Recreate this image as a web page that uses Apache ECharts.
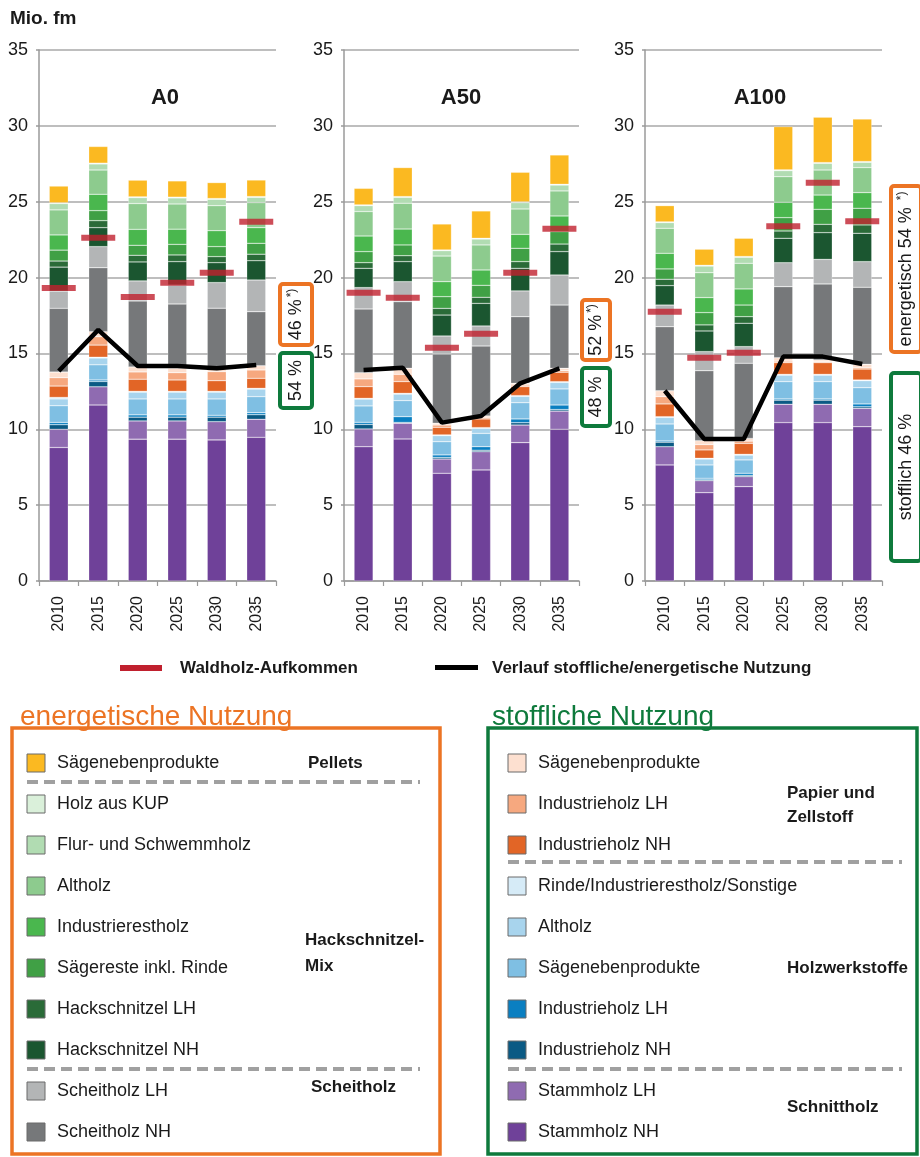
<!DOCTYPE html>
<html><head><meta charset="utf-8">
<script src="https://cdn.jsdelivr.net/npm/echarts@6/dist/echarts.min.js"></script>
<style>html,body{margin:0;padding:0;background:#fff}#c{width:920px;height:1157px}</style>
</head><body><div id="c"></div>
<script>
// ---------- DATA ----------
const years = ['2010','2015','2020','2025','2030','2035'];
const scenarios = ['A0','A50','A100'];
// stack order bottom -> top
const components = [
  'Stammholz NH','Stammholz LH',
  'Industrieholz NH (Holzwerkstoffe)','Industrieholz LH (Holzwerkstoffe)','Sägenebenprodukte (Holzwerkstoffe)','Altholz (Holzwerkstoffe)','Rinde/Industrierestholz/Sonstige',
  'Industrieholz NH (Papier)','Industrieholz LH (Papier)','Sägenebenprodukte (Papier)',
  'Scheitholz NH','Scheitholz LH',
  'Hackschnitzel NH','Hackschnitzel LH','Sägereste inkl. Rinde','Industrierestholz','Altholz (Hackschnitzel)','Flur- und Schwemmholz','Holz aus KUP',
  'Sägenebenprodukte (Pellets)'
];
const legendLabels = [
  'Stammholz NH','Stammholz LH',
  'Industrieholz NH','Industrieholz LH','Sägenebenprodukte','Altholz','Rinde/Industrierestholz/Sonstige',
  'Industrieholz NH','Industrieholz LH','Sägenebenprodukte',
  'Scheitholz NH','Scheitholz LH',
  'Hackschnitzel NH','Hackschnitzel LH','Sägereste inkl. Rinde','Industrierestholz','Altholz','Flur- und Schwemmholz','Holz aus KUP',
  'Sägenebenprodukte'
];
const colors = [
  '#6f4199','#8f6bb1',
  '#0b5a84','#0a7fc1','#7fbfe3','#a8d4ed','#d6ebf7',
  '#e26526','#f6a87f','#fde0d0',
  '#76787a','#b3b5b6',
  '#1b5630','#2a6b38','#40a045','#4ab74e','#8dcb8e','#b1dcb2','#daf0da',
  '#fbb921'
];
// values in Mio. fm, rows = components (same order), columns = years
const A0 = [
  [8.8, 11.6, 9.35, 9.35, 9.3, 9.47],
  [1.2, 1.2, 1.2, 1.2, 1.2, 1.19],
  [0.3, 0.35, 0.25, 0.25, 0.3, 0.3],
  [0.15, 0.1, 0.15, 0.15, 0.12, 0.13],
  [1.1, 1.0, 1.05, 1.05, 1.08, 1.06],
  [0.45, 0.45, 0.45, 0.45, 0.45, 0.5],
  [0.1, 0.05, 0.05, 0.05, 0.05, 0.05],
  [0.75, 0.8, 0.8, 0.75, 0.7, 0.66],
  [0.55, 0.55, 0.48, 0.48, 0.6, 0.55],
  [0.37, 0.33, 0.33, 0.3, 0.29, 0.28],
  [4.2, 4.22, 4.35, 4.23, 3.89, 3.56],
  [1.14, 1.39, 1.32, 1.25, 1.69, 2.09],
  [1.58, 1.25, 1.25, 1.54, 1.31, 1.27],
  [0.4, 0.46, 0.44, 0.44, 0.4, 0.43],
  [0.72, 0.66, 0.66, 0.7, 0.66, 0.72],
  [1.0, 1.08, 1.05, 1.0, 1.05, 1.03],
  [1.65, 1.6, 1.7, 1.66, 1.65, 1.65],
  [0.42, 0.4, 0.39, 0.4, 0.42, 0.35],
  [0.05, 0.05, 0.05, 0.05, 0.05, 0.05],
  [1.1, 1.1, 1.1, 1.07, 1.05, 1.09]
];
const A50 = [
  [8.85, 9.36, 7.1, 7.32, 9.12, 10.0],
  [1.17, 1.04, 0.94, 1.2, 1.16, 1.2],
  [0.3, 0.05, 0.1, 0.1, 0.15, 0.1],
  [0.14, 0.38, 0.17, 0.23, 0.25, 0.3],
  [1.08, 1.06, 0.87, 0.88, 1.07, 1.06],
  [0.45, 0.43, 0.4, 0.33, 0.42, 0.43],
  [0.05, 0.05, 0.05, 0.05, 0.05, 0.05],
  [0.77, 0.77, 0.5, 0.57, 0.59, 0.62],
  [0.51, 0.48, 0.15, 0.1, 0.1, 0.1],
  [0.41, 0.4, 0.12, 0.1, 0.12, 0.16],
  [4.2, 4.39, 4.56, 4.61, 4.39, 4.17],
  [1.41, 1.32, 1.19, 1.32, 1.7, 1.98],
  [1.27, 1.32, 1.38, 1.49, 1.49, 1.54],
  [0.37, 0.39, 0.44, 0.4, 0.44, 0.5],
  [0.73, 0.71, 0.77, 0.79, 0.88, 0.82],
  [1.03, 1.05, 0.99, 1.01, 0.92, 1.03],
  [1.61, 1.7, 1.69, 1.65, 1.67, 1.65],
  [0.39, 0.39, 0.35, 0.39, 0.42, 0.39],
  [0.05, 0.05, 0.05, 0.05, 0.05, 0.05],
  [1.09, 1.91, 1.71, 1.8, 1.95, 1.93]
];
const A100 = [
  [7.65, 5.82, 6.22, 10.44, 10.44, 10.17],
  [1.2, 0.79, 0.66, 1.21, 1.21, 1.21],
  [0.3, 0.06, 0.08, 0.27, 0.27, 0.1],
  [0.08, 0.1, 0.14, 0.08, 0.08, 0.19],
  [1.12, 0.88, 0.88, 1.14, 1.14, 1.07],
  [0.43, 0.39, 0.32, 0.43, 0.43, 0.46],
  [0.05, 0.05, 0.05, 0.05, 0.05, 0.05],
  [0.84, 0.55, 0.72, 0.77, 0.77, 0.72],
  [0.48, 0.35, 0.15, 0.1, 0.06, 0.1],
  [0.39, 0.26, 0.18, 0.23, 0.12, 0.21],
  [4.22, 4.61, 4.95, 4.68, 5.01, 5.08],
  [1.43, 1.26, 1.1, 1.58, 1.62, 1.69],
  [1.28, 1.36, 1.54, 1.61, 1.76, 1.87],
  [0.42, 0.4, 0.43, 0.48, 0.55, 0.55],
  [0.68, 0.81, 0.77, 0.88, 0.99, 1.1],
  [1.03, 0.99, 1.06, 1.01, 0.94, 1.03],
  [1.65, 1.64, 1.69, 1.69, 1.65, 1.65],
  [0.37, 0.44, 0.4, 0.4, 0.44, 0.35],
  [0.05, 0.05, 0.05, 0.05, 0.05, 0.05],
  [1.07, 1.06, 1.2, 2.85, 2.99, 2.8]
];
const waldA0   = [19.31, 22.62, 18.72, 19.66, 20.31, 23.68];
const waldA50  = [19.0, 18.67, 15.37, 16.29, 20.31, 23.21];
const waldA100 = [17.74, 14.71, 15.04, 23.39, 26.25, 23.72];
const verlaufA0   = [13.84, 16.55, 14.17, 14.17, 14.02, 14.24];
const verlaufA50  = [13.91, 14.06, 10.44, 10.88, 13.03, 14.02];
const verlaufA100 = [12.54, 9.36, 9.36, 14.79, 14.79, 14.3];
const energShare = ['46 %', '52 %', 'energetisch 54 %'];
const stoffShare = ['54 %', '48 %', 'stofflich 46 %'];
const yTicks = [0, 5, 10, 15, 20, 25, 30, 35];

// ---------- CHART ----------
const FONT = '"Liberation Sans","Arial",sans-serif';
const TXT = '#1a1a1a';
const scenarioData = [A0, A50, A100];
const wald = [waldA0, waldA50, waldA100];
const verlauf = [verlaufA0, verlaufA50, verlaufA100];
const gridPos = [{left:39, width:237}, {left:344, width:235}, {left:645, width:237}];
const titleX = [165, 461, 760];

const chart = echarts.init(document.getElementById('c'), null, {renderer:'canvas'});
const grid = [], xAxis = [], yAxis = [], series = [];
scenarios.forEach((sc, s) => {
  grid.push({left: gridPos[s].left, width: gridPos[s].width, top: 50, height: 531, containLabel: false});
  xAxis.push({
    type:'category', gridIndex:s, data: years,
    axisLine:{lineStyle:{color:'#9a9a9a', width:1.5}},
    axisTick:{show:true, length:5, lineStyle:{color:'#9a9a9a', width:1.2}},
    axisLabel:{rotate:90, fontSize:16, fontFamily:FONT, color:TXT, margin:15}
  });
  yAxis.push({
    type:'value', gridIndex:s, min: yTicks[0], max: yTicks[yTicks.length-1], interval: 5,
    axisLine:{show:true, lineStyle:{color:'#9a9a9a', width:1.5}},
    axisTick:{show:true, length:3, lineStyle:{color:'#9a9a9a', width:1.5}},
    axisLabel:{fontSize:18, fontFamily:FONT, color:TXT, margin:11},
    splitLine:{lineStyle:{color:'#a8a8a8', width:1.5}}
  });
  const rows = scenarioData[s];
  components.forEach((name, i) => {
    series.push({
      type:'bar', name: name, xAxisIndex:s, yAxisIndex:s, stack:'st'+s, barWidth:19,
      data: rows[i],
      itemStyle:{color: colors[i], borderColor:'rgba(255,255,255,0.5)', borderWidth:0.5},
      emphasis:{disabled:true}
    });
  });
  series.push({
    type:'scatter', name:'Waldholz-Aufkommen', xAxisIndex:s, yAxisIndex:s, data: wald[s],
    symbol:'rect', symbolSize:[34,6], itemStyle:{color:'#c0202e'}, z:5, emphasis:{disabled:true}
  });
  series.push({
    type:'line', name:'Verlauf stoffliche/energetische Nutzung', xAxisIndex:s, yAxisIndex:s, data: verlauf[s],
    symbol:'none', lineStyle:{color:'#000', width:4.5}, z:6, emphasis:{disabled:true}
  });
});

// ---------- GRAPHICS (titles, legends, share boxes) ----------
const g = [];
function text(x, y, t, o) {
  o = o || {};
  g.push({type:'text', x:x, y:y, rotation:o.rotation||0, z:20,
    style:{text:t, fontFamily:FONT, fontSize:o.size||18, fontWeight:o.weight||'normal', fill:o.color||TXT,
      align:o.align||'left', verticalAlign:o.va||'middle', rich:o.rich}});
}
text(10, 19, 'Mio. fm', {size:19, weight:'bold'});
scenarios.forEach((sc, s) => text(titleX[s], 98, sc, {size:22, weight:'bold', align:'center'}));

// top legend
g.push({type:'rect', shape:{x:120, y:665, width:42, height:6}, style:{fill:'#c0202e'}});
text(180, 668, 'Waldholz-Aufkommen', {size:17, weight:'bold'});
g.push({type:'rect', shape:{x:435, y:665, width:43, height:5}, style:{fill:'#000'}});
text(492, 668, 'Verlauf stoffliche/energetische Nutzung', {size:17, weight:'bold'});

// share boxes
function shareBox(x, y, w, h, col, label, star) {
  g.push({type:'rect', shape:{x:x, y:y, width:w, height:h, r:3}, style:{fill:'#fff', stroke:col, lineWidth:4}, z:15});
  const t = star ? '{a|' + label + '}{b|*)}' : '{a|' + label + '}';
  g.push({type:'text', x:x + w/2, y:y + h/2, rotation:Math.PI/2, z:20,
    style:{text:t, align:'center', verticalAlign:'middle',
      rich:{a:{fontFamily:FONT, fontSize:18, fill:TXT}, b:{fontFamily:FONT, fontSize:12, fill:TXT, verticalAlign:'top', padding:[0,0,8,2]}}}});
}
const ORANGE = '#ec7424', GREEN = '#0e7a3c';
shareBox(280, 284, 32, 61, ORANGE, energShare[0], true);
shareBox(280, 353, 32, 55, GREEN, stoffShare[0], false);
shareBox(582, 300, 28, 60, ORANGE, energShare[1], true);
shareBox(582, 368, 28, 58, GREEN, stoffShare[1], false);
shareBox(891, 186, 30, 166, ORANGE, energShare[2] + ' ', true);
shareBox(891, 373, 30, 188, GREEN, stoffShare[2], false);

// bottom legend boxes
text(20, 717, 'energetische Nutzung', {size:28, color:ORANGE});
text(492, 717, 'stoffliche Nutzung', {size:28, color:GREEN});
g.push({type:'rect', shape:{x:12, y:728, width:428, height:426}, style:{fill:'none', stroke:ORANGE, lineWidth:3.5}});
g.push({type:'rect', shape:{x:488, y:728, width:429, height:426}, style:{fill:'none', stroke:GREEN, lineWidth:3.5}});

function legendCol(order, ys, sx, tx, dashX2) {
  order.forEach((k, j) => {
    const y = ys[j];
    if (k === 'dash') {
      g.push({type:'line', shape:{x1:sx, y1:y, x2:dashX2, y2:y}, style:{stroke:'#a0a0a0', lineWidth:4, lineDash:[11,6]}});
    } else {
      g.push({type:'rect', shape:{x:sx, y:y-9, width:18, height:18}, style:{fill:colors[k], stroke:'#6a6a6a', lineWidth:1}});
      text(tx, y, legendLabels[k], {size:18});
    }
  });
}
legendCol([19,'dash',18,17,16,15,14,13,12,'dash',11,10],
  [763,782,804,845,886,927,968,1009,1050,1069,1091,1132], 27, 57, 420);
legendCol([9,8,7,'dash',6,5,4,3,2,'dash',1,0],
  [763,804,845,862,886,927,968,1009,1050,1069,1091,1132], 508, 538, 902);
text(308, 763, 'Pellets', {size:17, weight:'bold'});
text(305, 940, 'Hackschnitzel-', {size:17, weight:'bold'});
text(305, 966, 'Mix', {size:17, weight:'bold'});
text(311, 1087, 'Scheitholz', {size:17, weight:'bold'});
text(787, 793, 'Papier und', {size:17, weight:'bold'});
text(787, 817, 'Zellstoff', {size:17, weight:'bold'});
text(787, 968, 'Holzwerkstoffe', {size:17, weight:'bold'});
text(787, 1107, 'Schnittholz', {size:17, weight:'bold'});

chart.setOption({
  animation:false,
  textStyle:{fontFamily:FONT},
  grid, xAxis, yAxis, series,
  graphic: g
});
</script></body></html>
